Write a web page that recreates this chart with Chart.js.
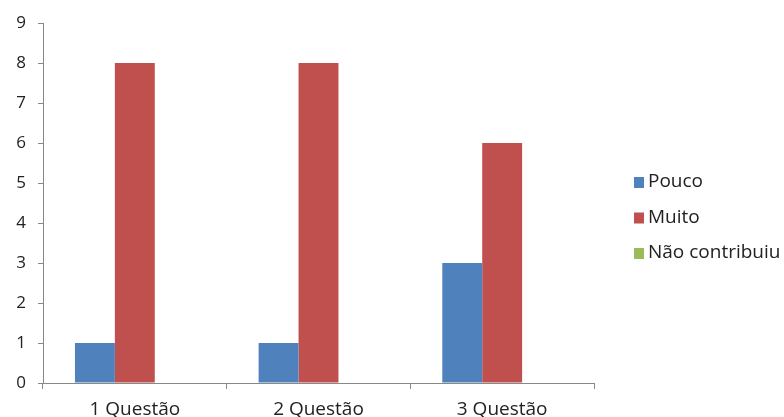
<!DOCTYPE html>
<html>
<head>
<meta charset="utf-8">
<script src="https://cdn.jsdelivr.net/npm/chart.js@4"></script>
<style>
  html, body { margin: 0; padding: 0; background: #fff; overflow: hidden; }
  #wrap { width: 784px; height: 417px; }
</style>
</head>
<body>
<div id="wrap"><canvas id="c" width="784" height="417"></canvas></div>
<script>
// Categories and series
const categories = ['1 Questão', '2 Questão', '3 Questão'];
const seriesNames = ['Pouco', 'Muito', 'Não contribuiu'];
const pouco = [1, 1, 3];
const muito = [8, 8, 6];
const naoContribuiu = [0, 0, 0];
const yTicks = [0, 1, 2, 3, 4, 5, 6, 7, 8, 9];

const colors = ['#4F81BD', '#C0504D', '#9BBB59'];
const FONT = "'Open Sans', 'Liberation Sans', sans-serif";

// Legend drawn to the right of the plot, one row per series
const sideLegend = {
  id: 'sideLegend',
  afterDraw(chart) {
    const ctx = chart.ctx;
    ctx.save();
    ctx.font = '19px ' + FONT;
    ctx.textBaseline = 'middle';
    chart.data.datasets.forEach((ds, i) => {
      const y = 182 + i * 35.5;
      ctx.fillStyle = ds.backgroundColor;
      ctx.fillRect(634, y - 5, 10, 11);
      ctx.fillStyle = '#222';
      ctx.fillText(ds.label, 648, y);
    });
    ctx.restore();
  }
};

new Chart(document.getElementById('c'), {
  type: 'bar',
  data: {
    labels: categories,
    datasets: [
      { label: seriesNames[0], data: pouco, backgroundColor: colors[0] },
      { label: seriesNames[1], data: muito, backgroundColor: colors[1] },
      { label: seriesNames[2], data: naoContribuiu, backgroundColor: colors[2] }
    ]
  },
  options: {
    responsive: false,
    animation: false,
    layout: { padding: { top: 23, right: 190, left: 0, bottom: 0 } },
    datasets: { bar: { barPercentage: 1.0, categoryPercentage: 0.652 } },
    plugins: { legend: { display: false }, tooltip: { enabled: false } },
    scales: {
      x: {
        grid: { display: true, offset: true, drawOnChartArea: false, tickLength: 6, color: '#888' },
        border: { color: '#888' },
        ticks: { color: '#222', font: { family: FONT, size: 19 }, padding: 9, maxRotation: 0 },
        afterFit(scale) { scale.height = 34; }
      },
      y: {
        min: 0, max: 9,
        afterBuildTicks(scale) { scale.ticks = yTicks.map(v => ({ value: v })); },
        grid: { display: true, drawOnChartArea: false, tickLength: 5, color: '#888' },
        border: { color: '#888' },
        ticks: { color: '#222', font: { family: FONT, size: 17 }, padding: 12 },
        afterFit(scale) { scale.width = 43; }
      }
    }
  },
  plugins: [sideLegend]
});
</script>
</body>
</html>
